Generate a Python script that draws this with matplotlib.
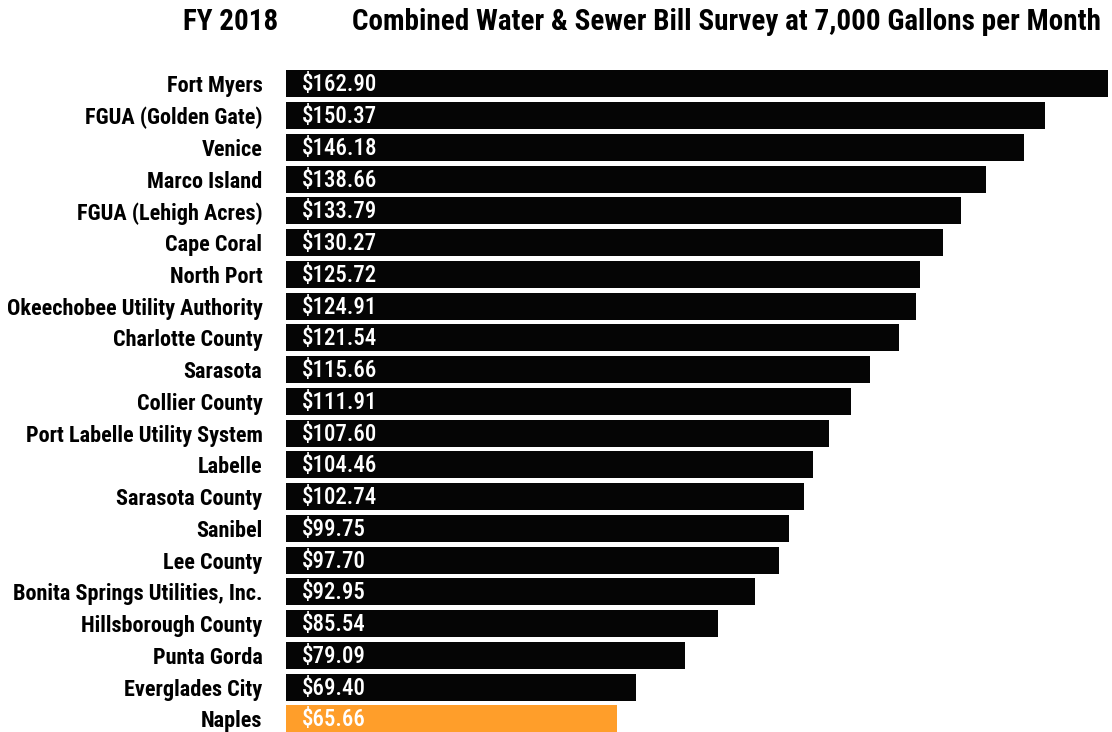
import matplotlib.pyplot as plt

utilities = ["Fort Myers", "FGUA (Golden Gate)", "Venice", "Marco Island",
             "FGUA (Lehigh Acres)", "Cape Coral", "North Port",
             "Okeechobee Utility Authority", "Charlotte County", "Sarasota",
             "Collier County", "Port Labelle Utility System", "Labelle",
             "Sarasota County", "Sanibel", "Lee County",
             "Bonita Springs Utilities, Inc.", "Hillsborough County",
             "Punta Gorda", "Everglades City", "Naples"]
bills = [162.90, 150.37, 146.18, 138.66, 133.79, 130.27, 125.72, 124.91,
         121.54, 115.66, 111.91, 107.60, 104.46, 102.74, 99.75, 97.70,
         92.95, 85.54, 79.09, 69.40, 65.66]
highlight = "Naples"

plt.rcParams["font.family"] = ["Roboto Condensed", "DejaVu Sans"]

W, H = 1112, 732
fig = plt.figure(figsize=(W / 100, H / 100), dpi=100)
ax = fig.add_axes([286 / W, 0, (W - 286) / W, 1 - 68 / H])

colors = ["#FF9E2A" if u == highlight else "#050505" for u in utilities]
ypos = list(range(len(utilities)))
ax.barh(ypos, bills, height=0.85, color=colors)

# value labels inside the bars
for y, v in zip(ypos, bills):
    ax.text(3.2, y + 0.03, f"${v:.2f}", color="white", fontsize=16.5,
            va="center", ha="left", fontweight=500)

ax.set_xlim(0, 163.7)
ax.set_ylim(20.41, -0.5)
ax.set_yticks(ypos)
ax.set_yticklabels(utilities, fontsize=16, fontweight="bold")
ax.tick_params(axis="y", length=0, pad=17)
ax.set_xticks([])
for s in ax.spines.values():
    s.set_visible(False)

fig.text(278 / W, 1 - 22 / H, "FY 2018", ha="right", va="center",
         fontsize=21, fontweight="bold")
fig.text(352 / W, 1 - 22 / H,
         "Combined Water & Sewer Bill Survey at 7,000 Gallons per Month",
         ha="left", va="center", fontsize=21, fontweight="bold")

fig.savefig("out.png", dpi=100)
